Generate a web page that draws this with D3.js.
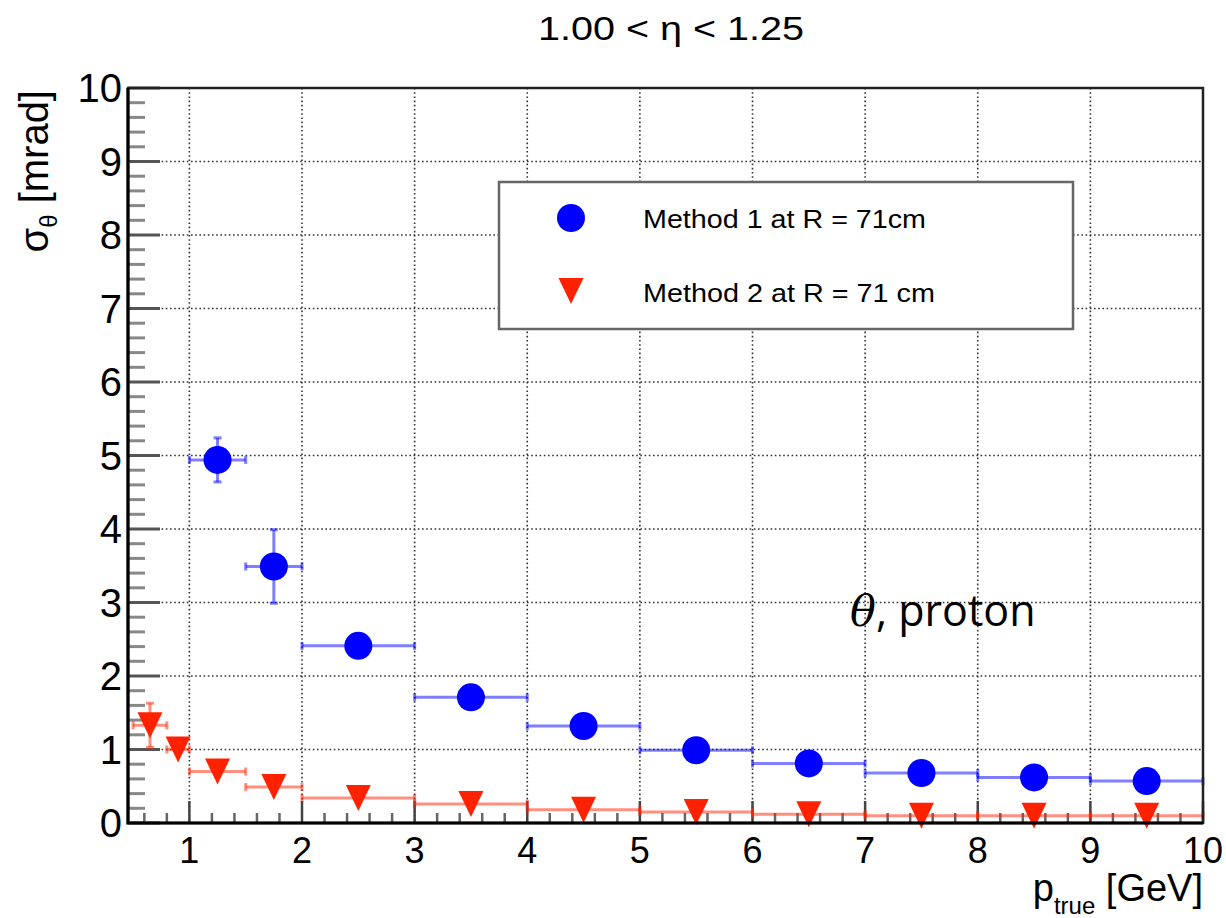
<!DOCTYPE html>
<html>
<head>
<meta charset="utf-8">
<script src="https://cdn.jsdelivr.net/npm/d3@7"></script>
<style>
  html, body { margin: 0; padding: 0; background: #fff; }
  svg { display: block; }
</style>
</head>
<body>
<svg id="chart" width="1226" height="918"></svg>
<script>
// ---- data ----
const titleText = "1.00 < \u03b7 < 1.25";
const xTicks = [1, 2, 3, 4, 5, 6, 7, 8, 9, 10];
const yTicks = [0, 1, 2, 3, 4, 5, 6, 7, 8, 9, 10];

const m1Label = "Method 1 at R = 71cm";
const m1X    = [1.25, 1.75, 2.5, 3.5, 4.5, 5.5, 6.5, 7.5, 8.5, 9.5];
const m1XErr = [0.25, 0.25, 0.5, 0.5, 0.5, 0.5, 0.5, 0.5, 0.5, 0.5];
const m1Y    = [4.94, 3.49, 2.41, 1.71, 1.32, 0.99, 0.81, 0.68, 0.62, 0.57];
const m1YErr = [0.30, 0.50, 0.02, 0.02, 0.02, 0.02, 0.02, 0.02, 0.02, 0.02];

const m2Label = "Method 2 at R = 71 cm";
const m2X    = [0.65, 0.9, 1.25, 1.75, 2.5, 3.5, 4.5, 5.5, 6.5, 7.5, 8.5, 9.5];
const m2XErr = [0.15, 0.1, 0.25, 0.25, 0.5, 0.5, 0.5, 0.5, 0.5, 0.5, 0.5, 0.5];
const m2Y    = [1.33, 1.00, 0.70, 0.49, 0.34, 0.26, 0.18, 0.15, 0.12, 0.10, 0.10, 0.10];
const m2YErr = [0.30, 0.05, 0.02, 0.02, 0.02, 0.02, 0.02, 0.02, 0.02, 0.02, 0.02, 0.02];

// ---- layout ----
const svg = d3.select("#chart");
const L = 128, R = 1203, T = 88, B = 823;
const x = d3.scaleLinear().domain([0.455, 10]).range([L, R]);
const y = d3.scaleLinear().domain([0, 10]).range([B, T]);
const font = "'Liberation Sans', Arial, Helvetica, sans-serif";

// grid
const g = svg.append("g");
g.selectAll(".gx").data(xTicks.filter(d => d < 10)).enter().append("line")
  .attr("x1", d => x(d)).attr("x2", d => x(d)).attr("y1", T).attr("y2", B)
  .attr("stroke", "#333").attr("stroke-width", 1.6).attr("stroke-dasharray", "1.6,2.6");
g.selectAll(".gy").data(yTicks.filter(d => d > 0 && d < 10)).enter().append("line")
  .attr("x1", L).attr("x2", R).attr("y1", d => y(d)).attr("y2", d => y(d))
  .attr("stroke", "#333").attr("stroke-width", 1.6).attr("stroke-dasharray", "1.6,2.6");

// ticks
const yMinor = d3.range(0, 10.001, 0.2).filter(v => Math.abs(v - Math.round(v)) > 1e-6);
const xMinor = d3.range(0.6, 10.001, 0.2).filter(v => Math.abs(v - Math.round(v)) > 1e-6);
g.selectAll(".ytm").data(yMinor).enter().append("line")
  .attr("x1", L).attr("x2", L + 17).attr("y1", d => y(d)).attr("y2", d => y(d))
  .attr("stroke", "#888").attr("stroke-width", 3);
g.selectAll(".ytM").data(yTicks).enter().append("line")
  .attr("x1", L).attr("x2", L + 32).attr("y1", d => y(d)).attr("y2", d => y(d))
  .attr("stroke", "#555").attr("stroke-width", 3);
g.selectAll(".xtm").data(xMinor).enter().append("line")
  .attr("x1", d => x(d)).attr("x2", d => x(d)).attr("y1", B).attr("y2", B - 10)
  .attr("stroke", "#666").attr("stroke-width", 2.5);
g.selectAll(".xtM").data(xTicks).enter().append("line")
  .attr("x1", d => x(d)).attr("x2", d => x(d)).attr("y1", B).attr("y2", B - 22)
  .attr("stroke", "#444").attr("stroke-width", 2.5);

// tick labels
svg.append("g").selectAll("text").data(yTicks).enter().append("text")
  .attr("x", L - 6).attr("y", d => y(d) + 14).attr("text-anchor", "end")
  .attr("font-family", font).attr("font-size", 40).text(d => d);
svg.append("g").selectAll("text").data(xTicks).enter().append("text")
  .attr("x", d => x(d)).attr("y", 863).attr("text-anchor", "middle")
  .attr("font-family", font).attr("font-size", 36).text(d => d);

// error bars
function errBars(xs, xe, ys, ye, color) {
  const eg = svg.append("g").attr("stroke", color).attr("stroke-width", 3).attr("stroke-opacity", 0.5);
  xs.forEach((xv, i) => {
    const cx = x(xv), cy = y(ys[i]);
    const x0 = x(xv - xe[i]), x1 = x(xv + xe[i]);
    const y0 = y(ys[i] - ye[i]), y1 = y(ys[i] + ye[i]);
    eg.append("line").attr("x1", x0).attr("x2", x1).attr("y1", cy).attr("y2", cy);
    eg.append("line").attr("x1", x0).attr("x2", x0).attr("y1", cy - 4).attr("y2", cy + 4);
    eg.append("line").attr("x1", x1).attr("x2", x1).attr("y1", cy - 4).attr("y2", cy + 4);
    if (cy - y1 > 3) {
      eg.append("line").attr("x1", cx).attr("x2", cx).attr("y1", y0).attr("y2", y1);
      eg.append("line").attr("x1", cx - 4).attr("x2", cx + 4).attr("y1", y0).attr("y2", y0);
      eg.append("line").attr("x1", cx - 4).attr("x2", cx + 4).attr("y1", y1).attr("y2", y1);
    }
  });
}
errBars(m1X, m1XErr, m1Y, m1YErr, "#0000ff");
errBars(m2X, m2XErr, m2Y, m2YErr, "#ff2200");

const tri = (cx, cy) => `M${cx - 12.5},${cy - 13}L${cx + 12.5},${cy - 13}L${cx},${cy + 13}Z`;

svg.append("g").selectAll("circle").data(m1X).enter().append("circle")
  .attr("cx", d => x(d)).attr("cy", (d, i) => y(m1Y[i])).attr("r", 14).attr("fill", "#0000ff");
svg.append("g").selectAll("path").data(m2X).enter().append("path")
  .attr("d", (d, i) => tri(x(d), y(m2Y[i]))).attr("fill", "#ff2200");

// frame
svg.append("rect").attr("x", L).attr("y", T).attr("width", R - L).attr("height", B - T)
  .attr("fill", "none").attr("stroke", "#222").attr("stroke-width", 2.5);
svg.append("path").attr("d", `M${L},${T}V${B}H${R}`).attr("fill", "none")
  .attr("stroke", "#000").attr("stroke-width", 3.2);

// legend
const lg = svg.append("g");
lg.append("rect").attr("x", 499).attr("y", 182).attr("width", 574).attr("height", 147)
  .attr("fill", "#fff").attr("stroke", "#666").attr("stroke-width", 2.5);
lg.append("circle").attr("cx", 571).attr("cy", 218).attr("r", 14).attr("fill", "#0000ff");
lg.append("path").attr("d", tri(571, 291)).attr("fill", "#ff2200");
lg.append("text").attr("x", 643).attr("y", 228).attr("font-family", font).attr("font-size", 25)
  .attr("textLength", 283).attr("lengthAdjust", "spacingAndGlyphs").text(m1Label);
lg.append("text").attr("x", 643).attr("y", 302).attr("font-family", font).attr("font-size", 25)
  .attr("textLength", 292).attr("lengthAdjust", "spacingAndGlyphs").text(m2Label);

// title
svg.append("text").attr("x", 671).attr("y", 40).attr("text-anchor", "middle")
  .attr("font-family", font).attr("font-size", 33)
  .attr("textLength", 266).attr("lengthAdjust", "spacingAndGlyphs").text(titleText);

// x title
const xt = svg.append("text").attr("x", 1203).attr("y", 901).attr("text-anchor", "end")
  .attr("font-family", font).attr("font-size", 38);
xt.append("tspan").text("p");
xt.append("tspan").attr("font-size", 24).attr("dy", 13).text("true");
xt.append("tspan").attr("dy", -13).text(" [GeV]");

// y title
const yt = svg.append("text").attr("transform", "translate(48,90) rotate(-90)")
  .attr("text-anchor", "end").attr("font-family", font).attr("font-size", 40);
yt.append("tspan").text("\u03c3");
yt.append("tspan").attr("font-size", 24).attr("dy", 9).text("\u03b8");
yt.append("tspan").attr("dy", -9).text(" [mrad]");

// annotation
const an = svg.append("text").attr("x", 850).attr("y", 626)
  .attr("font-family", "'Open Sans', 'Noto Sans', sans-serif").attr("font-size", 43);
an.append("tspan").attr("font-family", "'DejaVu Serif', serif").attr("font-style", "italic").text("\u03b8");
an.append("tspan").text(", proton");
</script>
</body>
</html>
